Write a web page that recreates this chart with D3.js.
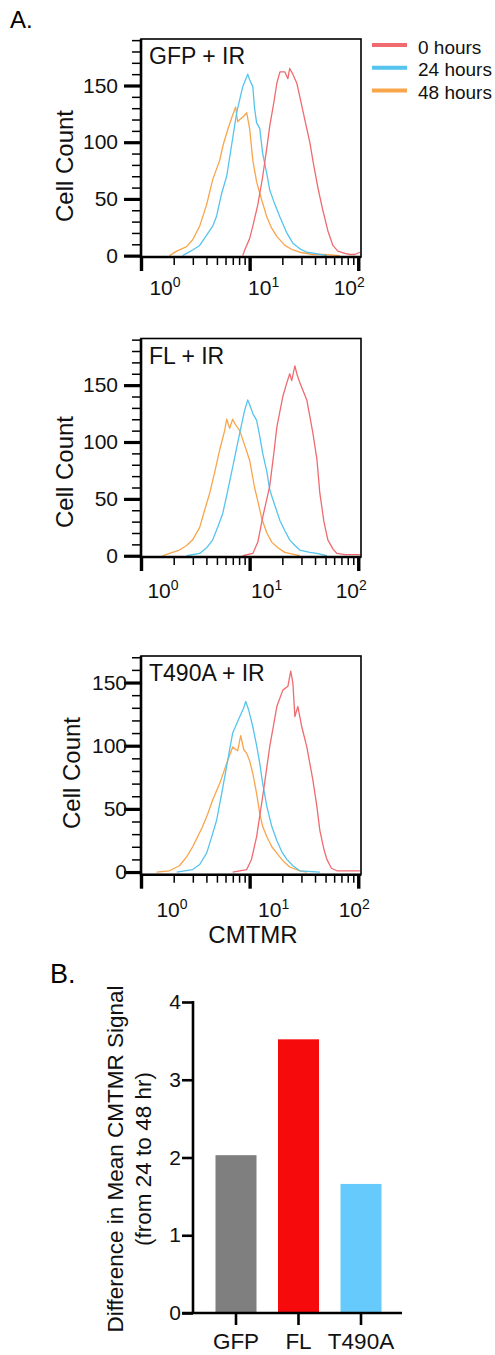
<!DOCTYPE html>
<html>
<head>
<meta charset="utf-8">
<script src="https://cdn.jsdelivr.net/npm/d3@7"></script>
<style>
  body { margin: 0; background: #fff; }
  svg { display: block; font-family: "Liberation Sans", Arial, Helvetica, sans-serif; }
</style>
</head>
<body>
<script>
// ---- data ----------------------------------------------------------
// histograms: [CMTMR intensity, cell count]
var gfp0h = [[8.64,0],[9.01,5],[10.0,15],[10.7,26],[11.9,45],[13.2,70],[14.4,95],[15.3,114],[16.7,135],[17.8,152],[19.0,162],[21.1,162],[22.5,156],[23.4,165],[25.0,160],[27.2,152],[29.0,140],[32.2,120],[35.8,100],[38.2,84],[42.5,60],[47.2,40],[52.5,22],[58.4,9],[64.9,4],[75.3,2],[83.7,1],[93.1,1],[103.5,3]];
var gfp24h = [[2.42,0],[2.63,2],[2.99,5],[3.47,9],[4.02,18],[4.57,26],[4.97,35],[5.53,55],[6.15,70],[6.84,98],[7.60,126],[8.64,149],[9.60,160],[10.0,155],[10.7,149],[11.1,130],[11.6,117],[12.4,112],[13.2,90],[14.4,72],[15.3,58],[17.1,45],[19.0,34],[22.0,20],[25.0,11],[29.0,6],[33.6,3],[39.9,2],[51.4,0]];
var gfp48h = [[1.83,0],[2.13,4],[2.63,8],[2.99,14],[3.47,26],[4.02,45],[4.57,67],[5.30,84],[5.72,98],[6.28,111],[6.98,124],[7.44,131],[7.76,118],[8.11,120],[8.64,122],[9.40,126],[10.0,112],[10.7,84],[11.6,65],[12.4,55],[14.4,34],[16.0,24],[17.8,17],[21.1,9],[25.0,5],[29.0,3],[38.2,1],[49.3,1],[67.8,0]];

var fl0h = [[8.64,0],[10.7,2],[11.9,12],[13.2,34],[15.3,61],[16.7,90],[17.8,113],[20.2,140],[22.0,152],[23.4,160],[24.4,154],[26.1,167],[27.2,160],[29.0,152],[33.6,137],[38.2,108],[41.6,85],[44.3,55],[48.3,30],[52.5,14],[58.4,6],[63.6,2],[75.3,1],[103.5,1]];
var fl24h = [[2.63,0],[3.47,2],[4.02,7],[4.57,14],[5.08,25],[5.65,37],[6.28,57],[6.98,78],[8.11,108],[9.01,128],[9.60,137],[10.0,133],[10.7,125],[11.6,119],[12.4,105],[13.2,90],[14.4,74],[15.3,58],[17.1,44],[19.0,31],[21.1,22],[23.4,14],[26.1,9],[29.0,5],[35.8,3],[41.6,2],[51.4,0]];
var fl48h = [[1.58,0],[1.83,2],[2.26,5],[2.63,9],[2.99,14],[3.47,25],[3.85,40],[4.29,55],[4.76,73],[5.30,93],[5.89,110],[6.15,120],[6.55,112],[6.98,120],[7.44,115],[8.11,110],[9.01,97],[10.0,84],[11.1,60],[11.9,48],[12.9,33],[14.4,20],[16.0,12],[18.2,7],[21.1,3],[26.1,1],[29.0,0]];

var t490a0h = [[6.98,0],[9.40,2],[10.4,10],[11.6,28],[13.2,60],[15.3,99],[17.8,131],[20.2,144],[22.5,147],[23.9,159],[25.0,150],[26.1,123],[27.8,131],[30.2,115],[33.6,99],[38.2,73],[41.6,52],[44.3,33],[48.3,18],[51.4,10],[56.6,3],[63.6,1],[75.3,1],[103.5,1]];
var t490a24h = [[2.13,0],[2.99,2],[3.47,6],[4.02,15],[4.48,28],[4.97,41],[5.53,62],[6.15,84],[6.98,110],[8.11,123],[8.83,130],[9.20,135],[9.82,128],[10.7,115],[11.6,100],[12.4,86],[13.2,70],[14.4,52],[16.0,36],[17.8,25],[19.8,16],[22.0,10],[25.0,5],[29.0,1],[44.3,0]];
var t490a48h = [[1.39,0],[1.83,1],[2.26,5],[2.63,12],[2.99,20],[3.32,28],[3.69,36],[4.11,46],[4.57,57],[5.30,70],[6.15,86],[6.98,99],[7.44,97],[7.76,96],[8.28,108],[8.83,97],[9.40,94],[10.0,88],[10.7,78],[11.6,62],[12.4,46],[13.2,36],[14.4,28],[16.0,20],[17.8,15],[20.2,9],[23.4,4],[29.0,1],[33.6,0]];

var panelTitles = ["GFP + IR", "FL + IR", "T490A + IR"];
var hourLabels = ["0 hours", "24 hours", "48 hours"];
var yMajorTicks = [0, 50, 100, 150];
var xMajorTicks = [1, 10, 100];
var xMinorTicks = [2, 3, 4, 5, 6, 7, 8, 9, 20, 30, 40, 50, 60, 70, 80, 90];
var xTickExponents = ["0", "1", "2"];
var xTitle = "CMTMR";
var yTitle = "Cell Count";

var barCategories = ["GFP", "FL", "T490A"];
var barValues = [2.03, 3.52, 1.66];
var barTicks = [0, 1, 2, 3, 4];
var barTitle = ["Difference in Mean CMTMR Signal", "(from 24 to 48 hr)"];

// ---- layout --------------------------------------------------------
var lineColors = ["#ef6b70", "#55c4ee", "#f8a54b"];
var barColors = ["#7f7f7f", "#f70a0c", "#66cbfc"];

var panels = [
  { series: [gfp0h, gfp24h, gfp48h], top: 39, bottom: 257, yMin: -1.2, yMax: 191, yTickMax: 190, labelEnd: 118, cellX: 73, cellY: 166, xLabelDx: [24, 14, -9], xLabelBase: 295 },
  { series: [fl0h, fl24h, fl48h], top: 338.5, bottom: 557, yMin: -1.1, yMax: 191, yTickMax: 190, labelEnd: 118, cellX: 73, cellY: 472, xLabelDx: [22, 17, -7], xLabelBase: 598 },
  { series: [t490a0h, t490a24h, t490a48h], top: 656, bottom: 874.7, yMin: -2.1, yMax: 171, yTickMax: 170, labelEnd: 127, cellX: 80, cellY: 773, xLabelDx: [31, 24, -4], xLabelBase: 917 }
];

var boxLeft = 141, boxRight = 361;

var svg = d3.select("body")
  .append("svg")
  .attr("width", 495)
  .attr("height", 1355);

var x = d3.scaleLog().domain([1, 106]).range([boxLeft, boxRight]);

svg.append("text")
  .attr("x", 10).attr("y", 28)
  .style("font-size", "24px")
  .text("A.");

panels.forEach(function (p, i) {
  var y = d3.scaleLinear().domain([p.yMin, p.yMax]).range([p.bottom, p.top]);
  var g = svg.append("g");

  // minor y ticks
  g.append("g")
    .attr("transform", "translate(" + boxLeft + ",0)")
    .call(d3.axisLeft(y).tickValues(d3.range(0, p.yTickMax + 1, 10)).tickSize(9).tickFormat(""))
    .call(function (a) {
      a.select(".domain").remove();
      a.selectAll("line").attr("stroke", "#000").attr("stroke-width", 1.5);
    });

  // major y ticks
  g.append("g")
    .attr("transform", "translate(" + boxLeft + ",0)")
    .call(d3.axisLeft(y).tickValues(yMajorTicks).tickSize(17).tickPadding(boxLeft - 17 - p.labelEnd))
    .call(function (a) {
      a.select(".domain").remove();
      a.selectAll("line").attr("stroke", "#000").attr("stroke-width", 3.2);
      a.selectAll("text")
        .attr("fill", "#111")
        .style("font-size", "21px")
        .style("font-family", "'Liberation Sans', Arial, sans-serif");
    });

  // minor x ticks
  g.append("g")
    .attr("transform", "translate(0," + p.bottom + ")")
    .call(d3.axisBottom(x).tickValues(xMinorTicks).tickSize(8).tickFormat(""))
    .call(function (a) {
      a.select(".domain").remove();
      a.selectAll("line").attr("stroke", "#000").attr("stroke-width", 1.5);
    });

  // major x ticks
  g.append("g")
    .attr("transform", "translate(0," + p.bottom + ")")
    .call(d3.axisBottom(x).tickValues(xMajorTicks).tickSize(14).tickFormat(""))
    .call(function (a) {
      a.select(".domain").remove();
      a.selectAll("line").attr("stroke", "#000").attr("stroke-width", 3.4);
    });

  // 10^n labels
  xMajorTicks.forEach(function (v, k) {
    var t = g.append("text")
      .attr("x", x(v) + p.xLabelDx[k])
      .attr("y", p.xLabelBase)
      .attr("text-anchor", "middle")
      .attr("fill", "#111")
      .style("font-size", "21px");
    t.append("tspan").text("10");
    t.append("tspan").attr("dy", -8).style("font-size", "14px").text(xTickExponents[k]);
  });

  // histograms
  var line = d3.line()
    .x(function (d) { return x(d[0]); })
    .y(function (d) { return y(d[1]); });

  [2, 1, 0].forEach(function (s) {
    g.append("path")
      .datum(p.series[s])
      .attr("fill", "none")
      .attr("stroke", lineColors[s])
      .attr("stroke-width", 1.3)
      .attr("stroke-linejoin", "round")
      .attr("d", line);
  });

  // frame
  g.append("rect")
    .attr("x", boxLeft).attr("y", p.top)
    .attr("width", boxRight - boxLeft).attr("height", p.bottom - p.top)
    .attr("fill", "none").attr("stroke", "#000").attr("stroke-width", 1.6);
  g.append("line")
    .attr("x1", boxLeft).attr("x2", boxLeft).attr("y1", p.top).attr("y2", p.bottom + 1)
    .attr("stroke", "#000").attr("stroke-width", 2.6);
  g.append("line")
    .attr("x1", boxLeft).attr("x2", boxRight).attr("y1", p.bottom).attr("y2", p.bottom)
    .attr("stroke", "#000").attr("stroke-width", 2.6);

  g.append("text")
    .attr("x", 149).attr("y", p.top + 25)
    .attr("fill", "#111")
    .style("font-size", "23px")
    .text(panelTitles[i]);

  g.append("text")
    .attr("transform", "translate(" + p.cellX + "," + p.cellY + ") rotate(-90)")
    .attr("text-anchor", "middle")
    .attr("fill", "#111")
    .style("font-size", "24px")
    .text(yTitle);
});

svg.append("text")
  .attr("x", 253).attr("y", 943)
  .attr("text-anchor", "middle")
  .attr("fill", "#111")
  .style("font-size", "24px")
  .text(xTitle);

// legend
var legendY = [45, 67.7, 90.5];
var legend = svg.append("g");
hourLabels.forEach(function (lab, k) {
  legend.append("line")
    .attr("x1", 372).attr("x2", 407)
    .attr("y1", legendY[k]).attr("y2", legendY[k])
    .attr("stroke", lineColors[k]).attr("stroke-width", 4);
  legend.append("text")
    .attr("x", 418).attr("y", legendY[k] + 8.5)
    .attr("fill", "#111")
    .style("font-size", "19px")
    .text(lab);
});

// ---- B. bar chart ---------------------------------------------------
svg.append("text")
  .attr("x", 50).attr("y", 983)
  .style("font-size", "27px")
  .text("B.");

var yb = d3.scaleLinear().domain([0, 4]).range([1313, 1002]);
var xb = d3.scaleBand().domain(barCategories).range([204.75, 392.25]).paddingInner(0.344).paddingOuter(0.172);
var axisX = 193;

svg.append("g")
  .selectAll("rect")
  .data(barValues)
  .enter()
  .append("rect")
  .attr("x", function (d, i) { return xb(barCategories[i]); })
  .attr("width", xb.bandwidth())
  .attr("y", function (d) { return yb(d); })
  .attr("height", function (d) { return yb(0) - yb(d); })
  .attr("fill", function (d, i) { return barColors[i]; });

svg.append("g")
  .attr("transform", "translate(" + axisX + ",0)")
  .call(d3.axisLeft(yb).tickValues(barTicks).tickSize(11).tickPadding(1).tickFormat(d3.format("d")))
  .call(function (a) {
    a.select(".domain").remove();
    a.selectAll("line").attr("stroke", "#000").attr("stroke-width", 2.6);
    a.selectAll("text").attr("fill", "#111").style("font-size", "21px")
      .style("font-family", "'Liberation Sans', Arial, sans-serif");
  });

svg.append("line")
  .attr("x1", axisX).attr("x2", axisX).attr("y1", yb(4) - 1).attr("y2", yb(0))
  .attr("stroke", "#000").attr("stroke-width", 2.6);

svg.append("g")
  .attr("transform", "translate(0," + yb(0) + ")")
  .call(d3.axisBottom(xb).tickSize(12).tickSizeOuter(0))
  .call(function (a) {
    a.select(".domain").remove();
    a.selectAll("line").attr("stroke", "#000").attr("stroke-width", 2.6);
    a.selectAll("text").attr("fill", "#111").attr("y", 20.5)
      .style("font-size", "22.5px")
      .style("font-family", "'Liberation Sans', Arial, sans-serif");
  });

svg.append("line")
  .attr("x1", axisX - 11).attr("x2", 402).attr("y1", yb(0)).attr("y2", yb(0))
  .attr("stroke", "#000").attr("stroke-width", 2.6);

barTitle.forEach(function (t, k) {
  svg.append("text")
    .attr("transform", "translate(" + (123.4 + 28 * k) + ",1159) rotate(-90)")
    .attr("text-anchor", "middle")
    .attr("fill", "#111")
    .style("font-size", "22.5px")
    .text(t);
});
</script>
</body>
</html>
